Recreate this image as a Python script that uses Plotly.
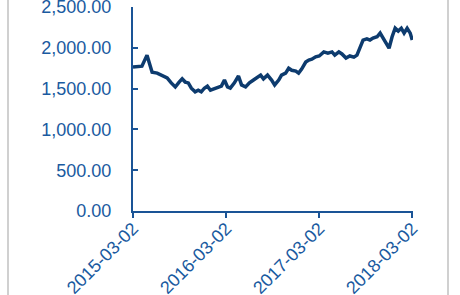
import plotly.graph_objects as go

dates = [
    "2015-03-02", "2015-04-06", "2015-04-26", "2015-05-08", "2015-05-16", "2015-06-05",
    "2015-06-24", "2015-07-14", "2015-07-30", "2015-08-15", "2015-08-30", "2015-09-11",
    "2015-09-23", "2015-10-05", "2015-10-17", "2015-11-01", "2015-11-13", "2015-11-25",
    "2015-12-07", "2015-12-19", "2015-12-31", "2016-01-15", "2016-01-31", "2016-02-12",
    "2016-02-24", "2016-03-07", "2016-03-18", "2016-04-03", "2016-04-19", "2016-05-01",
    "2016-05-17", "2016-06-01", "2016-06-17", "2016-07-03", "2016-07-15", "2016-07-26",
    "2016-08-11", "2016-08-27", "2016-09-08", "2016-09-24", "2016-10-05", "2016-10-21",
    "2016-11-02", "2016-11-14", "2016-11-30", "2016-12-11", "2016-12-23", "2017-01-08",
    "2017-01-20", "2017-02-01", "2017-02-16", "2017-03-02", "2017-03-12", "2017-03-20",
    "2017-04-05", "2017-04-21", "2017-05-02", "2017-05-18", "2017-05-30", "2017-06-15",
    "2017-06-30", "2017-07-16", "2017-07-28", "2017-08-09", "2017-08-21", "2017-09-05",
    "2017-09-17", "2017-09-29", "2017-10-15", "2017-10-27", "2017-11-08", "2017-11-19",
    "2017-12-01", "2017-12-13", "2017-12-25", "2018-01-06", "2018-01-18", "2018-01-29",
    "2018-02-10", "2018-02-22", "2018-03-02",
]
values = [
    1765, 1775, 1910, 1790, 1700, 1690,
    1655, 1630, 1570, 1520, 1580, 1620,
    1580, 1570, 1505, 1460, 1480, 1460,
    1505, 1530, 1480, 1495, 1520, 1530,
    1605, 1520, 1505, 1570, 1655, 1545,
    1520, 1570, 1605, 1640, 1665, 1620,
    1665, 1605, 1545, 1605, 1665, 1690,
    1750, 1725, 1715, 1690, 1740, 1825,
    1850, 1860, 1890, 1900, 1935, 1950,
    1935, 1950, 1910, 1950, 1925, 1875,
    1900, 1885, 1910, 2010, 2095, 2110,
    2095, 2120, 2135, 2180, 2120, 2070,
    1995, 2135, 2240, 2205, 2240, 2180,
    2240, 2180, 2095,
]
x_ticks = ["2015-03-02", "2016-03-02", "2017-03-02", "2018-03-02"]
y_ticks = [0, 500, 1000, 1500, 2000, 2500]

text_color = "#1a5aa0"
axis_color = "#1a5496"
line_color = "#0d3b6e"

fig = go.Figure()
fig.add_trace(go.Scatter(x=dates, y=values, mode="lines",
                         line=dict(color=line_color, width=3.5)))

fig.update_layout(
    width=460, height=295,
    margin=dict(l=133, r=47, t=7, b=84, autoexpand=False),
    paper_bgcolor="white", plot_bgcolor="white",
    showlegend=False,
    font=dict(family="Liberation Sans, Arial", size=18, color=text_color),
    xaxis=dict(
        range=["2015-03-02", "2018-03-05"],
        tickmode="array", tickvals=x_ticks, ticktext=x_ticks,
        tickangle=-45, showgrid=False, zeroline=False, automargin=False,
        showline=True, linecolor=axis_color, linewidth=2,
        ticks="outside", ticklen=5, tickwidth=2, tickcolor=axis_color,
        tickfont=dict(size=18, color=text_color),
        ticklabelstandoff=-7,
        ticklabeloverflow="allow",
    ),
    yaxis=dict(
        range=[0, 2500],
        tickmode="array", tickvals=y_ticks,
        ticktext=[f"{v:,.2f}" for v in y_ticks],
        showgrid=False, zeroline=False, automargin=False,
        showline=True, linecolor=axis_color, linewidth=2,
        ticks="inside", ticklen=5, tickwidth=2, tickcolor=axis_color,
        ticklabelstandoff=16,
        tickfont=dict(size=18, color=text_color),
        ticklabeloverflow="allow",
    ),
    shapes=[
        dict(type="line", xref="paper", yref="paper",
             x0=(8 - 133) / 280, x1=(8 - 133) / 280, y0=-84 / 204, y1=1 + 7 / 204,
             line=dict(color="#c0c0c0", width=1.5)),
        dict(type="line", xref="paper", yref="paper",
             x0=(448 - 133) / 280, x1=(448 - 133) / 280, y0=-84 / 204, y1=1 + 7 / 204,
             line=dict(color="#c0c0c0", width=1.5)),
    ],
)

fig.write_html("out.html")
